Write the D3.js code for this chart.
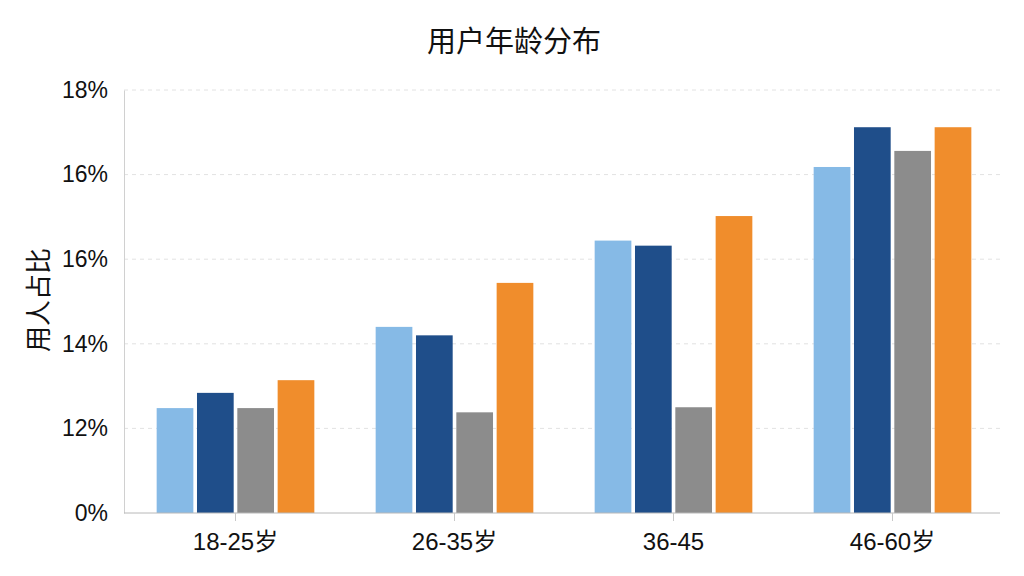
<!DOCTYPE html>
<html>
<head>
<meta charset="utf-8">
<title>用户年龄分布</title>
<style>
  body { margin: 0; background: #fff; font-family: "Liberation Sans", "Noto Sans CJK SC", sans-serif; }
  text { font-family: "Liberation Sans", "Noto Sans CJK SC", sans-serif; fill: #111; }
</style>
</head>
<body>
<svg id="chart" width="1024" height="576"></svg>
<script src="https://cdn.jsdelivr.net/npm/d3@7/dist/d3.min.js"></script>
<script>

// categories and tick labels as printed on the chart
const groups = ['18-25岁', '26-35岁', '36-45', '46-60岁'];
const seriesKeys = ['s1', 's2', 's3', 's4'];
const tickLabels = ['0%', '12%', '14%', '16%', '16%', '18%'];

// bar heights in gridline steps (the axis ticks are evenly spaced)
const s1 = [1.24, 2.20, 3.22, 4.09];
const s2 = [1.42, 2.10, 3.16, 4.56];
const s3 = [1.24, 1.19, 1.25, 4.28];
const s4 = [1.57, 2.72, 3.51, 4.56];

const colors = ['#86bae6', '#1f4e8a', '#8c8c8c', '#f08d2c'];

let svg = d3.select('#chart');
let margin = {left: 124, right: 24, top: 90, bottom: 63};
let width = 1024, height = 576;

let x0 = d3.scaleBand().domain(groups).range([126, 1002]).paddingInner(0.28).paddingOuter(0.14);
let x1 = d3.scaleBand().domain(seriesKeys).range([0, x0.bandwidth()]).paddingInner(0.09);
let y = d3.scaleLinear().domain([0, tickLabels.length - 1]).range([height - margin.bottom, margin.top]);

// title
svg.append('text')
  .attr('x', 514).attr('y', 52)
  .attr('text-anchor', 'middle')
  .style('font-family', '"Noto Sans CJK SC", sans-serif')
  .style('font-size', '29px')
  .text('用户年龄分布');

// gridlines
svg.append('g').selectAll('line')
  .data(d3.range(1, tickLabels.length))
  .enter().append('line')
    .attr('x1', margin.left).attr('x2', 1000)
    .attr('y1', d => y(d)).attr('y2', d => y(d))
    .attr('stroke', '#e2e2e2')
    .attr('stroke-dasharray', '4,4');

// y axis
let yAxis = d3.axisLeft(y)
  .tickValues(d3.range(tickLabels.length))
  .tickFormat((d, i) => tickLabels[i])
  .tickSize(0).tickPadding(16);
let yg = svg.append('g').attr('transform', 'translate(' + margin.left + ',0)').call(yAxis);
yg.select('.domain').attr('stroke', '#d0d0d0');
yg.selectAll('text').style('font-size', '23px').attr('fill', '#111');

// y axis title
svg.append('text')
  .attr('transform', 'translate(36,' + 300 + ') rotate(-90)')
  .attr('text-anchor', 'middle')
  .attr('dominant-baseline', 'central')
  .style('font-family', '"Noto Sans CJK SC", sans-serif')
  .style('font-size', '26px')
  .text('用人占比');

// bars
let data = groups.map((g, i) => ({group: g, values: [s1[i], s2[i], s3[i], s4[i]]}));
let gs = svg.append('g').selectAll('g')
  .data(data)
  .enter().append('g')
    .attr('transform', d => 'translate(' + x0(d.group) + ',0)');

gs.selectAll('rect')
  .data(d => d.values.map((v, j) => ({key: seriesKeys[j], value: v, color: colors[j]})))
  .enter().append('rect')
    .attr('x', d => x1(d.key))
    .attr('width', x1.bandwidth())
    .attr('y', d => y(d.value))
    .attr('height', d => y(0) - y(d.value))
    .attr('fill', d => d.color);

// x axis
let xAxis = d3.axisBottom(x0).tickSize(8).tickPadding(12);
let xg = svg.append('g').attr('transform', 'translate(0,' + y(0) + ')').call(xAxis);
xg.select('.domain').attr('d', 'M' + margin.left + ',0H1000').attr('stroke', '#b8b8b8');
xg.selectAll('.tick line').attr('stroke', '#c8c8c8');
xg.selectAll('text').style('font-size', '24px').attr('fill', '#111');

</script>
</body>
</html>
